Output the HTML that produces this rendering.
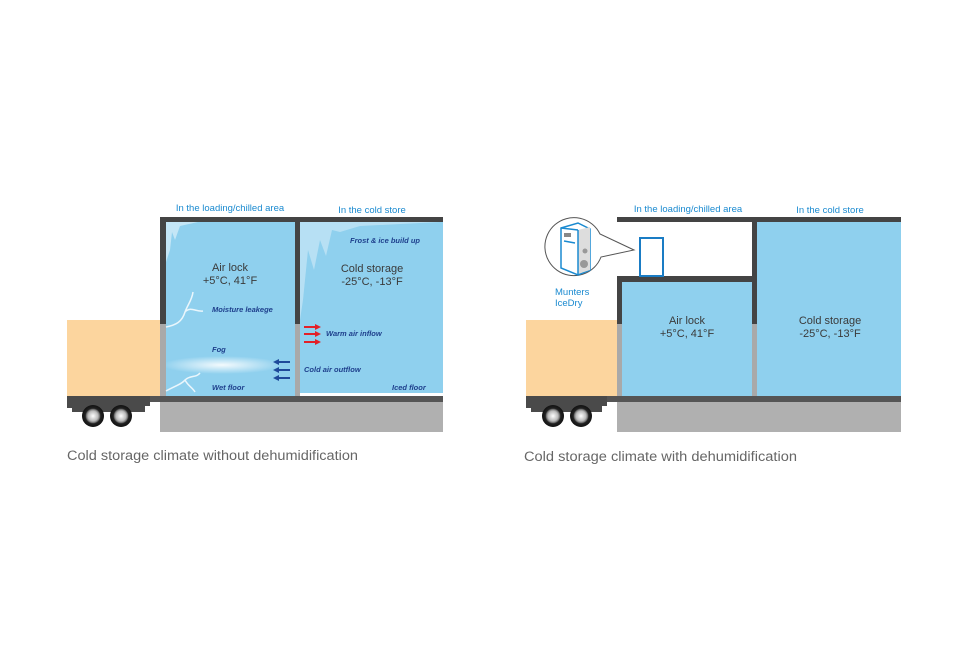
<!DOCTYPE html>
<html><head><meta charset="utf-8"><style>
html,body{margin:0;padding:0;background:#fff}
svg{display:block}
text{font-family:"Liberation Sans",sans-serif}
.hd{fill:#1a8ad0;font-size:9.5px}
.big{fill:#3a3a3a;font-size:11px;text-anchor:middle}
.it{fill:#1e3f8c;font-size:7.5px;font-style:italic;font-weight:bold}
.cap{fill:#666;font-size:13.5px}
</style></head><body>
<svg width="976" height="650" viewBox="0 0 976 650" xmlns="http://www.w3.org/2000/svg">
<defs>
<radialGradient id="wh"><stop offset="0" stop-color="#fff"/><stop offset="0.45" stop-color="#bbb"/><stop offset="0.6" stop-color="#777"/><stop offset="0.7" stop-color="#222"/><stop offset="1" stop-color="#111"/></radialGradient>
<radialGradient id="fog"><stop offset="0" stop-color="#fff" stop-opacity="0.9"/><stop offset="1" stop-color="#fff" stop-opacity="0"/></radialGradient>
</defs>
<text class="hd" x="230" y="211" text-anchor="middle">In the loading/chilled area</text>
<text class="hd" x="372" y="213" text-anchor="middle">In the cold store</text>
<rect x="166" y="222" width="129" height="174" fill="#8fd0ee"/>
<rect x="300" y="222" width="143" height="172" fill="#8fd0ee"/>
<rect x="300" y="393" width="143" height="3" fill="#fff"/>
<path d="M166 222 L198 222 L180 226 L175 240 L172 232 L170 250 L166 262 Z" fill="#e8f5fb" opacity="0.6"/>
<path d="M300 222 L440 222 L360 226 L340 232 L332 230 L326 256 L320 240 L314 270 L308 250 L303 300 L300 320 Z" fill="#e8f5fb" opacity="0.45"/>
<ellipse cx="222" cy="365" rx="60" ry="9" fill="url(#fog)"/>
<rect x="160" y="217" width="283" height="5" fill="#444"/>
<rect x="160" y="217" width="6" height="107" fill="#444"/>
<rect x="160" y="324" width="6" height="72" fill="#a9a9a9"/>
<rect x="295" y="217" width="5" height="107" fill="#444"/>
<rect x="295" y="324" width="5" height="72" fill="#a9a9a9"/>
<rect x="67" y="320" width="93" height="76" fill="#fcd59e"/>
<rect x="150" y="396" width="293" height="6" fill="#555"/>
<rect x="160" y="402" width="283" height="30" fill="#b0b0b0"/>
<path d="M67 396 H150 V406 H145 V412 H72 V408 H67 Z" fill="#4a4a4a"/>
<circle cx="93" cy="416" r="11" fill="url(#wh)"/><circle cx="121" cy="416" r="11" fill="url(#wh)"/>
<path d="M166 327 C176 325 182 322 185 312 C188 304 192 300 193 292 M185 312 C190 306 196 312 203 311 M166 391 C175 386 182 384 185 380 C190 375 196 378 200 373 M185 380 C188 386 192 387 195 392" stroke="#eaf6fc" stroke-width="1.5" fill="none"/>
<text class="it" x="212" y="312">Moisture leakege</text>
<text class="it" x="212" y="352">Fog</text>
<text class="it" x="212" y="390">Wet floor</text>
<text class="it" x="350" y="243">Frost &amp; ice build up</text>
<text class="it" x="326" y="336">Warm air inflow</text>
<text class="it" x="304" y="372">Cold air outflow</text>
<text class="it" x="392" y="390">Iced floor</text>
<text class="big" x="230" y="271">Air lock</text>
<text class="big" x="230" y="284">+5°C, 41°F</text>
<text class="big" x="372" y="272">Cold storage</text>
<text class="big" x="372" y="285">-25°C, -13°F</text>
<g fill="#e32028" stroke="#e32028" stroke-width="2">
<line x1="304" y1="327" x2="316" y2="327"/><polygon points="315,324 321,327 315,330" stroke="none"/>
<line x1="304" y1="334" x2="316" y2="334"/><polygon points="315,331 321,334 315,337" stroke="none"/>
<line x1="304" y1="342" x2="316" y2="342"/><polygon points="315,339 321,342 315,345" stroke="none"/>
</g>
<g fill="#1e4a9a" stroke="#1e4a9a" stroke-width="2">
<line x1="278" y1="362" x2="290" y2="362"/><polygon points="279,359 273,362 279,365" stroke="none"/>
<line x1="278" y1="370" x2="290" y2="370"/><polygon points="279,367 273,370 279,373" stroke="none"/>
<line x1="278" y1="378" x2="290" y2="378"/><polygon points="279,375 273,378 279,381" stroke="none"/>
</g>
<text class="cap" x="67" y="460" textLength="291" lengthAdjust="spacingAndGlyphs">Cold storage climate without dehumidification</text>
<text class="hd" x="688" y="212" text-anchor="middle">In the loading/chilled area</text>
<text class="hd" x="830" y="213" text-anchor="middle">In the cold store</text>
<rect x="622" y="282" width="130" height="114" fill="#8fd0ee"/>
<rect x="757" y="222" width="144" height="174" fill="#8fd0ee"/>
<rect x="617" y="217" width="284" height="5" fill="#444"/>
<rect x="617" y="276" width="140" height="6" fill="#444"/>
<rect x="617" y="276" width="5" height="48" fill="#444"/>
<rect x="617" y="324" width="5" height="72" fill="#a9a9a9"/>
<rect x="752" y="217" width="5" height="107" fill="#444"/>
<rect x="752" y="324" width="5" height="72" fill="#a9a9a9"/>
<rect x="526" y="320" width="91" height="76" fill="#fcd59e"/>
<rect x="607" y="396" width="294" height="6" fill="#555"/>
<rect x="617" y="402" width="284" height="30" fill="#b0b0b0"/>
<path d="M526 396 H607 V406 H602 V412 H531 V408 H526 Z" fill="#4a4a4a"/>
<circle cx="553" cy="416" r="11" fill="url(#wh)"/><circle cx="581" cy="416" r="11" fill="url(#wh)"/>
<rect x="640" y="238" width="23" height="38" fill="#fff" stroke="#1a7cc4" stroke-width="2"/>
<path d="M600 234 A29 29 0 1 0 601 257 L634 250 Z" fill="#fff" stroke="#555" stroke-width="1"/>
<polygon points="561,228 578,223 590,229 590,270 578,275 561,268" fill="#fff" stroke="#1a8ad0" stroke-width="1.5"/>
<polygon points="578,230 590,227 590,270 578,274" fill="#ddd"/>
<line x1="578" y1="230" x2="578" y2="274" stroke="#1a8ad0" stroke-width="1.5"/>
<line x1="561" y1="228" x2="578" y2="230" stroke="#1a8ad0" stroke-width="1.5"/>
<rect x="564" y="233" width="7" height="4" fill="#888"/>
<line x1="564" y1="241" x2="575" y2="243" stroke="#1a8ad0" stroke-width="1.5"/>
<circle cx="585" cy="251" r="2.5" fill="#999"/><circle cx="584" cy="264" r="4" fill="#999"/>
<text class="hd" x="555" y="295">Munters</text>
<text class="hd" x="555" y="306">IceDry</text>
<text class="big" x="687" y="324">Air lock</text>
<text class="big" x="687" y="337">+5°C, 41°F</text>
<text class="big" x="830" y="324">Cold storage</text>
<text class="big" x="830" y="337">-25°C, -13°F</text>
<text class="cap" x="524" y="461" textLength="273" lengthAdjust="spacingAndGlyphs">Cold storage climate with dehumidification</text>
</svg>
</body></html>
